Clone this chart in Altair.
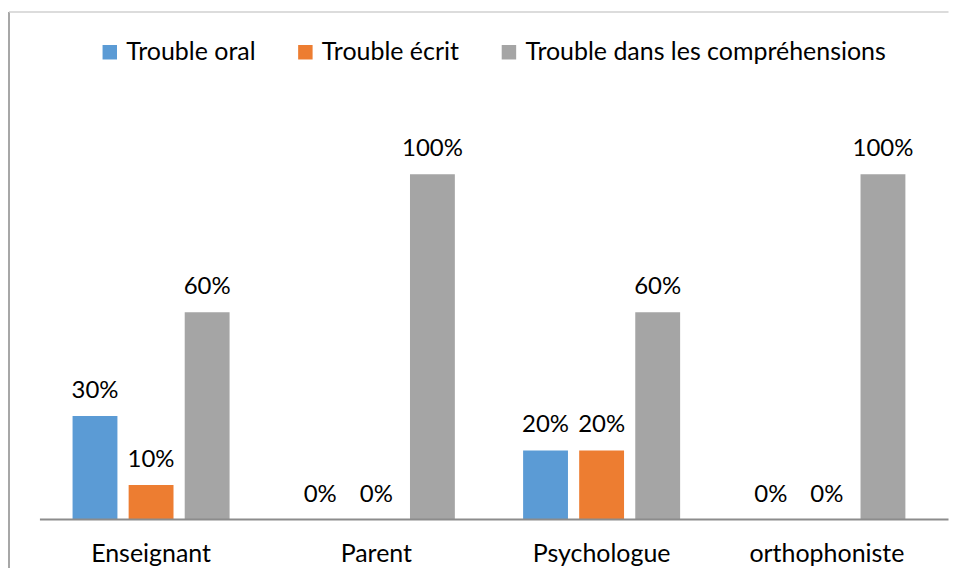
import altair as alt
import pandas as pd

categories = ["Enseignant", "Parent", "Psychologue", "orthophoniste"]
series = ["Trouble oral", "Trouble écrit", "Trouble dans les compréhensions"]
colors = ["#5b9bd5", "#ed7d31", "#a5a5a5"]
values = {
    "Trouble oral": [30, 0, 20, 0],
    "Trouble écrit": [10, 0, 20, 0],
    "Trouble dans les compréhensions": [60, 100, 60, 100],
}

rows = []
for s in series:
    for c, v in zip(categories, values[s]):
        rows.append({"cat": c, "serie": s, "val": v, "label": f"{v}%"})
df = pd.DataFrame(rows)

FONT = "Lato"
FS = 25
FS_LBL = 24
W, H = 903, 346

x_enc = alt.X("cat:N", sort=categories, axis=alt.Axis(title=None, labelFontSize=FS, labelColor="#000000",
              labelFont=FONT, ticks=False, domain=False, labelPadding=22, labelAngle=0),
              scale=alt.Scale(paddingInner=0.303, paddingOuter=0.1515))
xo_enc = alt.XOffset("serie:N", sort=series, scale=alt.Scale(paddingInner=0.2, paddingOuter=0))
y_enc = alt.Y("val:Q", axis=None, scale=alt.Scale(domain=[0, 100]))

base = alt.Chart(df)

bars = base.mark_bar().encode(
    x=x_enc, xOffset=xo_enc, y=y_enc,
    color=alt.Color("serie:N", sort=series,
                    scale=alt.Scale(domain=series, range=colors),
                    legend=alt.Legend(title=None, orient="none", direction="horizontal",
                                      legendX=59, legendY=-135, symbolType="square",
                                      symbolSize=210, symbolStrokeWidth=0, labelFontSize=FS,
                                      labelFont=FONT, labelColor="#000000", labelOffset=4,
                                      labelLimit=600, columnPadding=37, padding=0)),
)

labels = base.mark_text(baseline="alphabetic", dy=-18, fontSize=FS_LBL, font=FONT, color="#000000").encode(
    x=alt.X("cat:N", sort=categories), xOffset=alt.XOffset("serie:N", sort=series), y="val:Q",
    text="label:N",
)

baseline = alt.Chart(pd.DataFrame({"v": [0]})).mark_rule(color="#8c8c8c", strokeWidth=2).encode(
    x=alt.value(1.5), x2=alt.value(912), y=alt.Y("v:Q")
)

border_left = alt.Chart(pd.DataFrame({"v": [0]})).mark_rule(color="#8a8a8a", strokeWidth=1.5).encode(
    x=alt.value(-29.5), y=alt.value(-162.5), y2=alt.value(420)
)
border_top = alt.Chart(pd.DataFrame({"v": [0]})).mark_rule(color="#d0d0d0", strokeWidth=1.5).encode(
    x=alt.value(-29.5), x2=alt.value(912), y=alt.value(-162.5)
)

chart = alt.layer(bars, labels, baseline, border_left, border_top).properties(
    width=W, height=H,
    autosize=alt.AutoSizeParams(type="none"),
    padding={"left": 30.5, "top": 166, "right": 9.5, "bottom": 48},
    background="#ffffff",
).configure_view(stroke=None).configure_axis(grid=False)

chart.save("out.html", embed_options={"renderer": "svg", "actions": False})
